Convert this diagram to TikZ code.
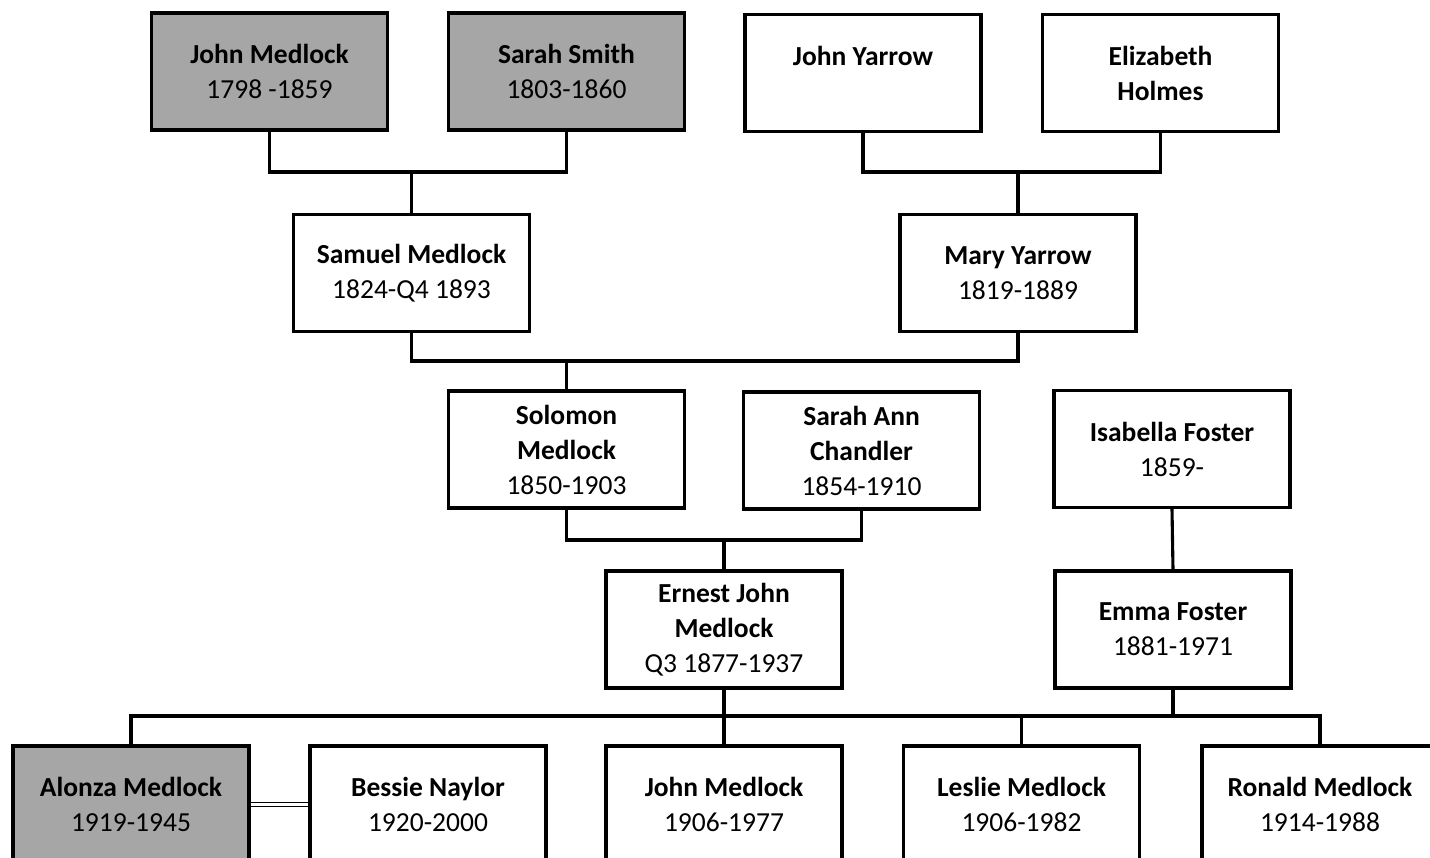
\documentclass[tikz,border=0pt]{standalone}
\usepackage{fontspec}
\setmainfont{Carlito}
\definecolor{boxgrey}{RGB}{166,166,166}
\tikzset{
  person/.style={draw=black, line width=3.1pt, fill=white, rectangle,
    minimum width=236pt, minimum height=117pt, align=center, inner sep=0pt,
    font=\fontsize{27.5}{35}\selectfont},
  dead/.style={person, fill=boxgrey},
  conn/.style={draw=black, line width=3.1pt, line join=miter},
  marriage/.style={draw=black, line width=1.4pt, double, double distance=2.6pt}
}
\begin{document}
\begin{tikzpicture}[x=1pt,y=-1pt]
\useasboundingbox (0,0) rectangle (1430,858);
\clip (0,0) rectangle (1430,858);
\fill[white] (0,0) rectangle (1430,858);
% generation 1
\node[dead] (jm1) at (269.5,71.5) {\textbf{John Medlock}\\1798 -1859};
\node[dead] (ss) at (566.5,71.5) {\textbf{Sarah Smith}\\1803-1860};
\node[person] (jy) at (863,73) {\textbf{John Yarrow}\\\mbox{}};
\node[person] (eh) at (1160.5,73) {\textbf{Elizabeth}\\\textbf{Holmes}};
% generation 2
\node[person] (sam) at (411.5,273) {\textbf{Samuel Medlock}\\1824-Q4 1893};
\node[person] (mary) at (1018,273) {\textbf{Mary Yarrow}\\1819-1889};
% generation 3
\node[person] (sol) at (566.5,449.5) {\textbf{Solomon}\\\textbf{Medlock}\\1850-1903};
\node[person] (sac) at (861.5,450.5) {\textbf{Sarah Ann}\\\textbf{Chandler}\\1854-1910};
\node[person] (isa) at (1172,449) {\textbf{Isabella Foster}\\1859-};
% generation 4
\node[person] (ern) at (724,629.5) {\textbf{Ernest John}\\\textbf{Medlock}\\Q3 1877-1937};
\node[person] (emma) at (1173,629.5) {\textbf{Emma Foster}\\1881-1971};
% generation 5
\node[dead] (alo) at (131,804.5) {\textbf{Alonza Medlock}\\1919-1945};
\node[person] (bes) at (428,804.5) {\textbf{Bessie Naylor}\\1920-2000};
\node[person] (jm2) at (724,804.5) {\textbf{John Medlock}\\1906-1977};
\node[person] (les) at (1021.5,804.5) {\textbf{Leslie Medlock}\\1906-1982};
\node[person] (ron) at (1320,804.5) {\textbf{Ronald Medlock}\\1914-1988};
% junctions
\coordinate (j1) at (411.5,172);
\coordinate (j2) at (1018,172);
\coordinate (j3) at (566.5,361);
\coordinate (j4) at (724,540);
\coordinate (j5) at (724,716);
\coordinate (j6) at (1173,716);
% connectors
\draw[conn] (jm1.south) |- (j1) -| (ss.south);
\draw[conn] (j1) -- (sam.north);
\draw[conn] (jy.south) |- (j2) -| (eh.south);
\draw[conn] (j2) -- (mary.north);
\draw[conn] (sam.south) |- (j3) -| (mary.south);
\draw[conn] (j3) -- (sol.north);
\draw[conn] (sol.south) |- (j4) -| (sac.south);
\draw[conn] (j4) -- (ern.north);
\draw[conn] (isa.south) -- (emma.north);
\draw[conn] (alo.north) |- (j5) -| (ron.north);
\draw[conn] (ern.south) -- (jm2.north);
\draw[conn] (emma.south) -- (j6);
\draw[conn] (les.north) -- (les.north |- j5);
\draw[marriage] (alo.east) -- (bes.west);
\end{tikzpicture}
\end{document}
